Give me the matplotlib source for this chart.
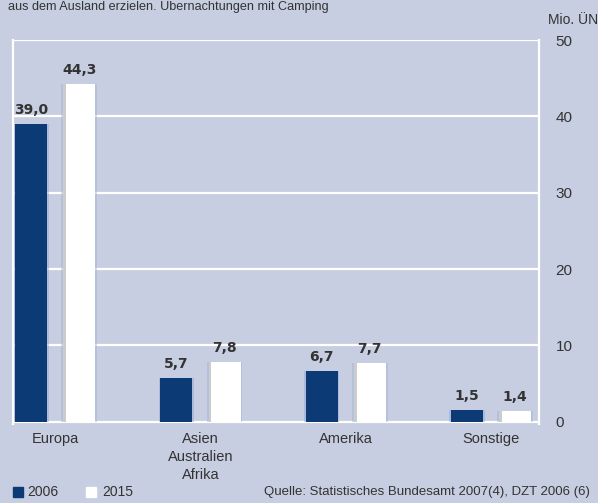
import numpy as np
import matplotlib.pyplot as plt

# Daten
kategorien = ["Europa", "Asien\nAustralien\nAfrika", "Amerika", "Sonstige"]
werte_2006 = [39.0, 5.7, 6.7, 1.5]
werte_2015 = [44.3, 7.8, 7.7, 1.4]
y_ticks = [0, 10, 20, 30, 40, 50]

bg = "#c8cee1"
dunkel = "#0b3a75"
text_col = "#333333"
plt.rcParams["font.family"] = ["Liberation Sans", "DejaVu Sans"]

fig = plt.figure(figsize=(5.98, 5.03), dpi=100, facecolor=bg)
ax = fig.add_axes([13 / 598, 79 / 503, 526 / 598, 384 / 503])
ax.set_facecolor(bg)

x = np.arange(len(kategorien))
breite = 0.22
off = 0.166

# Gitterlinien
for t in y_ticks:
    ax.axhline(t, color="white", lw=1.6, zorder=1)

# leichter Schein um die Balken
ax.bar(x - off, werte_2006, breite + 0.025, color="#8fa2d0", alpha=0.45, zorder=2)
ax.bar(x + off, werte_2015, breite + 0.025, color="#9fb0d8", alpha=0.45, zorder=2)
b1 = ax.bar(x - off, werte_2006, breite, color=dunkel, zorder=3)
b2 = ax.bar(x + off, werte_2015, breite, color="white", zorder=3)
# grauer Schatten links an den weissen Balken
ax.bar(x + off - breite / 2 + 0.01, werte_2015, 0.02, color="#9a9a9a", alpha=0.5, zorder=4)

for rects, vals in ((b1, werte_2006), (b2, werte_2015)):
    for r, v in zip(rects, vals):
        ax.text(r.get_x() + r.get_width() / 2, v + 0.9, f"{v:.1f}".replace(".", ","),
                ha="center", va="bottom", fontsize=10, fontweight="bold",
                family="DejaVu Sans", color=text_col, zorder=5)

ax.set_xlim(-0.29, 3.33)
ax.set_ylim(-0.3, 50)
ax.set_xticks(x)
ax.set_xticklabels(kategorien, fontsize=10.5, color=text_col, linespacing=1.35)
ax.set_yticks(y_ticks)
ax.yaxis.tick_right()
ax.tick_params(axis="y", length=0, pad=12, labelsize=11, labelcolor=text_col)
ax.tick_params(axis="x", length=0, pad=6)
for s in ["top", "bottom"]:
    ax.spines[s].set_visible(False)
for s in ["left", "right"]:
    ax.spines[s].set_color("white")
    ax.spines[s].set_linewidth(1.6)

fig.text(548 / 598, 1 - 20 / 503, "Mio. ÜN", fontsize=10, color=text_col,
         ha="left", va="center")
fig.text(8 / 598, 1 - 6 / 503, "aus dem Ausland erzielen. Übernachtungen mit Camping",
         fontsize=9.1, color=text_col, ha="left", va="center")

# Legende
fig.patches.append(plt.Rectangle((13 / 598, 1 - 497 / 503), 10 / 598, 10 / 503,
                                 transform=fig.transFigure, color=dunkel))
fig.text(27 / 598, 1 - 492 / 503, "2006", fontsize=10, color=text_col, va="center")
fig.patches.append(plt.Rectangle((86 / 598, 1 - 497 / 503), 10 / 598, 10 / 503,
                                 transform=fig.transFigure, color="white"))
fig.text(102 / 598, 1 - 492 / 503, "2015", fontsize=10, color=text_col, va="center")
fig.text(590 / 598, 1 - 492 / 503, "Quelle: Statistisches Bundesamt 2007(4), DZT 2006 (6)",
         fontsize=9.5, color=text_col, ha="right", va="center")

fig.savefig("out.png", dpi=100, facecolor=bg)
